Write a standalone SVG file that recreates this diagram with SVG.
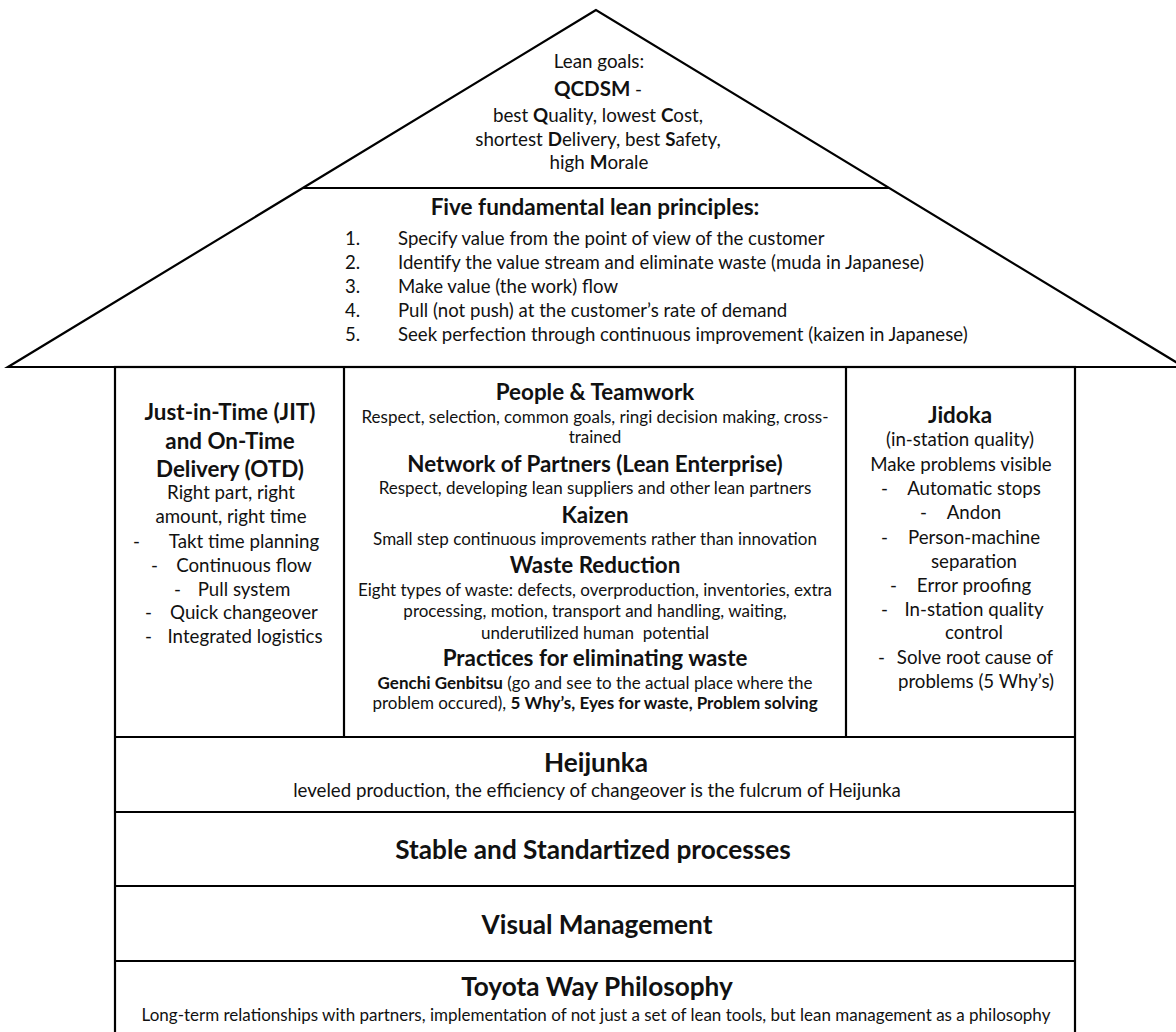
<svg xmlns="http://www.w3.org/2000/svg" width="1176" height="1032" viewBox="0 0 1176 1032">
<style>
text{font-family:Lato,"Liberation Sans",sans-serif;fill:#111;}
.c{text-anchor:middle;}
.b{font-weight:bold;}
.t{font-size:18.8px;}
.p{font-size:18.6px;}
.h{font-size:22.4px;font-weight:bold;}
.s{font-size:18.7px;}
.m{font-size:17px;}
.bh{font-size:26.2px;font-weight:bold;}
.bs{font-size:17px;}
.ln{stroke:#000;stroke-width:2.2;fill:none;}
</style>
<rect width="1176" height="1032" fill="#fff"/>
<g id="roof">
<polygon points="596,10 8,367 1184,367" fill="#fff" stroke="#000" stroke-width="2.2"/>
<line class="ln" x1="303" y1="188" x2="889" y2="188"/>
</g>
<g id="lean-goals">
<text class="t c" x="599" y="68" font-size="19.8">Lean goals:</text>
<text class="t c" x="598" y="96"><tspan class="b" font-size="20.5">QCDSM</tspan> -</text>
<text class="t c" x="598" y="122">best <tspan class="b">Q</tspan>uality, lowest <tspan class="b">C</tspan>ost,</text>
<text class="t c" x="598" y="146">shortest <tspan class="b">D</tspan>elivery, best <tspan class="b">S</tspan>afety,</text>
<text class="t c" x="599" y="169">high <tspan class="b">M</tspan>orale</text>
</g>
<g id="principles">
<text class="b c" font-size="22.5" x="595" y="215">Five fundamental lean principles:</text>
<text class="p" x="345" y="245">1.</text><text class="p" x="398" y="245">Specify value from the point of view of the customer</text>
<text class="p" x="345" y="269">2.</text><text class="p" x="398" y="269">Identify the value stream and eliminate waste (muda in Japanese)</text>
<text class="p" x="345" y="293">3.</text><text class="p" x="398" y="293">Make value (the work) flow</text>
<text class="p" x="345" y="317">4.</text><text class="p" x="398" y="317">Pull (not push) at the customer’s rate of demand</text>
<text class="p" x="345" y="341">5.</text><text class="p" x="398" y="341">Seek perfection through continuous improvement (kaizen in Japanese)</text>
</g>
<g id="pillars-frame">
<rect class="ln" x="115" y="367" width="960" height="680"/>
<line class="ln" x1="344" y1="367" x2="344" y2="737"/>
<line class="ln" x1="846" y1="367" x2="846" y2="737"/>
<line class="ln" x1="115" y1="737" x2="1075" y2="737"/>
<line class="ln" x1="115" y1="812" x2="1075" y2="812"/>
<line class="ln" x1="115" y1="886" x2="1075" y2="886"/>
<line class="ln" x1="115" y1="961" x2="1075" y2="961"/>
</g>
<g id="jit">
<text class="h c" x="230" y="420">Just-in-Time (JIT)</text>
<text class="h c" x="230" y="449">and On-Time</text>
<text class="h c" x="230" y="477">Delivery (OTD)</text>
<text class="s c" x="231" y="499">Right part, right</text>
<text class="s c" x="231" y="523">amount, right time</text>
<text class="s" x="133" y="548">-</text><text class="s c" x="244" y="548">Takt time planning</text>
<text class="s" x="151" y="572">-</text><text class="s c" x="244" y="572">Continuous flow</text>
<text class="s" x="174" y="596">-</text><text class="s c" x="244" y="596">Pull system</text>
<text class="s" x="145" y="619">-</text><text class="s c" x="244" y="619">Quick changeover</text>
<text class="s" x="145" y="643">-</text><text class="s c" x="245" y="643">Integrated logistics</text>
</g>
<g id="center-pillar">
<text class="h c" x="595" y="400">People &amp; Teamwork</text>
<text class="m c" x="595" y="423">Respect, selection, common goals, ringi decision making, cross-</text>
<text class="m c" x="595" y="443">trained</text>
<text class="h c" x="595" y="472">Network of Partners (Lean Enterprise)</text>
<text class="m c" x="595" y="494">Respect, developing lean suppliers and other lean partners</text>
<text class="h c" x="595" y="523">Kaizen</text>
<text class="m c" x="595" y="545">Small step continuous improvements rather than innovation</text>
<text class="h c" x="595" y="573">Waste Reduction</text>
<text class="m c" x="595" y="596">Eight types of waste: defects, overproduction, inventories, extra</text>
<text class="m c" x="595" y="617">processing, motion, transport and handling, waiting,</text>
<text class="m c" x="595" y="639" xml:space="preserve">underutilized human  potential</text>
<text class="h c" x="595" y="666">Practices for eliminating waste</text>
<text class="m c" x="595" y="689"><tspan class="b">Genchi Genbitsu</tspan> (go and see to the actual place where the</text>
<text class="m c" x="595" y="709">problem occured), <tspan class="b">5 Why’s, Eyes for waste, Problem solving</tspan></text>
</g>
<g id="jidoka">
<text class="h c" x="960" y="423">Jidoka</text>
<text class="s c" x="960" y="446">(in-station quality)</text>
<text class="s c" x="961" y="471">Make problems visible</text>
<text class="s" x="881" y="495">-</text><text class="s c" x="974" y="495">Automatic stops</text>
<text class="s" x="920" y="519">-</text><text class="s c" x="974" y="519">Andon</text>
<text class="s" x="881" y="544">-</text><text class="s c" x="974" y="544">Person-machine</text>
<text class="s c" x="974" y="568">separation</text>
<text class="s" x="890" y="592">-</text><text class="s c" x="974" y="592">Error proofing</text>
<text class="s" x="881" y="616">-</text><text class="s c" x="974" y="616">In-station quality</text>
<text class="s c" x="974" y="639">control</text>
<text class="s" x="878" y="664">-</text><text class="s c" x="975" y="664">Solve root cause of</text>
<text class="s c" x="976" y="688">problems (5 Why’s)</text>
</g>
<g id="heijunka">
<text class="bh c" x="596" y="772">Heijunka</text>
<text class="c" font-size="18.7" x="597" y="797">leveled production, the efficiency of changeover is the fulcrum of Heijunka</text>
</g>
<g id="stable">
<text class="bh c" x="593" y="859">Stable and Standartized processes</text>
</g>
<g id="visual">
<text class="bh c" x="597" y="934">Visual Management</text>
</g>
<g id="toyota">
<text class="bh c" x="597" y="996">Toyota Way Philosophy</text>
<text class="bs c" x="596" y="1021">Long-term relationships with partners, implementation of not just a set of lean tools, but lean management as a philosophy</text>
</g>
<g id="connectors"/>
</svg>
